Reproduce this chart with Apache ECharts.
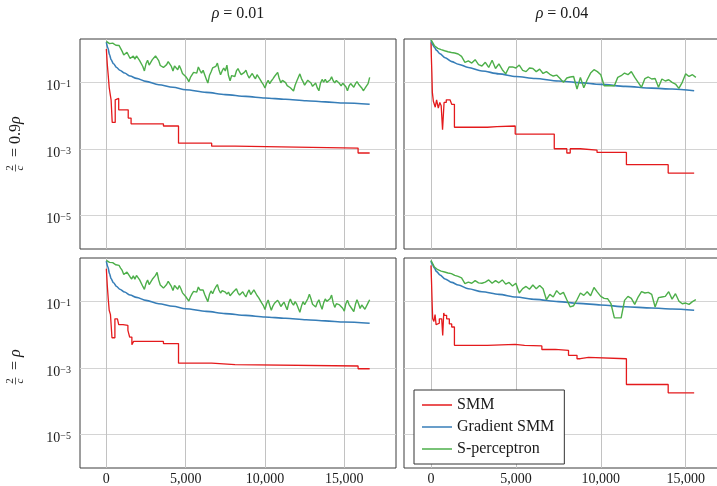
<!DOCTYPE html>
<html>
<head>
<meta charset="utf-8">
<script src="https://cdn.jsdelivr.net/npm/echarts@6/dist/echarts.min.js"></script>
<style>
  html, body { margin: 0; padding: 0; background: #fff; }
  #chart { width: 717px; height: 486px; }
</style>
</head>
<body>
<div id="chart"></div>
<script>
// Convergence of three training methods, log-scaled error against iteration.
// Columns: rho = 0.01 / 0.04; rows: 2/c = 0.9 rho / 2/c = rho.

const columnTitles = ['0.01', '0.04'];
const rowLabels = ['0.9', ''];
const seriesNames = ['SMM', 'Gradient SMM', 'S-perceptron'];

// S-perceptron values are recorded every 100 iterations (rho = 0.01)
// and every 200 iterations (rho = 0.04).
const SAMPLE_STEP_LEFT = 100;
const SAMPLE_STEP_RIGHT = 200;

// ---- SMM (piecewise constant): [iteration, value] at each change ----
const smmTL = [[0, 1.0], [60, 0.35], [120, 0.16], [180, 0.07], [240, 0.045], [300, 0.03], [370, 0.0063],
  [560, 0.03], [680, 0.033], [780, 0.015], [1380, 0.0085], [1560, 0.0057], [3600, 0.0049],
  [4550, 0.0015], [6640, 0.00122], [8110, 0.00107], [15870, 0.00076], [16600, 0.00076]];
const smmTR = [[0, 1.6], [20, 0.6], [50, 0.2], [80, 0.05], [140, 0.027], [250, 0.018], [330, 0.03],
  [430, 0.017], [520, 0.025], [600, 0.02], [680, 0.0038], [770, 0.025], [900, 0.03], [1120, 0.027],
  [1220, 0.022], [1380, 0.0045], [3320, 0.0047], [3880, 0.0049], [4960, 0.0028], [7260, 0.00102],
  [8000, 0.00076], [8200, 0.00102], [8790, 0.00092], [9780, 0.00079], [11510, 0.00034],
  [13970, 0.00019], [15500, 0.00019]];
const smmBL = [[0, 0.95], [60, 0.3], [120, 0.12], [180, 0.054], [260, 0.04], [356, 0.0081], [540, 0.03],
  [700, 0.033], [780, 0.02], [1050, 0.019], [1360, 0.0135], [1470, 0.0085], [1610, 0.005],
  [1720, 0.0063], [3600, 0.0054], [4550, 0.0014], [6640, 0.00126], [8110, 0.00115],
  [15870, 0.00095], [16600, 0.00095]];
const smmBR = [[0, 1.2], [30, 0.4], [70, 0.08], [100, 0.03], [170, 0.025], [240, 0.04], [300, 0.02],
  [370, 0.022], [490, 0.03], [630, 0.027], [690, 0.0095], [750, 0.045], [790, 0.038], [920, 0.03],
  [1080, 0.021], [1220, 0.017], [1380, 0.0048], [3320, 0.0051], [4960, 0.0048], [5510, 0.0046],
  [6530, 0.0036], [7320, 0.0034], [8100, 0.0024], [8600, 0.0019], [8790, 0.0021], [9280, 0.0019],
  [11510, 0.00032], [13970, 0.00018], [15500, 0.00018]];

// ---- Gradient SMM: [iteration, value] ----
const gradTL = [[0, 1.62], [100, 1.07], [200, 0.68], [300, 0.48], [450, 0.36], [650, 0.28], [850, 0.23],
  [1150, 0.19], [1500, 0.155], [1900, 0.132], [2500, 0.107], [3300, 0.085], [4200, 0.071],
  [5000, 0.060], [6300, 0.050], [7500, 0.043], [8800, 0.038], [10000, 0.034], [11300, 0.031],
  [12600, 0.028], [13800, 0.026], [15000, 0.024], [16600, 0.022]];
const gradBL = [[0, 1.62], [100, 1.07], [200, 0.68], [300, 0.48], [450, 0.36], [650, 0.28], [850, 0.23],
  [1150, 0.19], [1500, 0.155], [1900, 0.132], [2500, 0.107], [3300, 0.085], [4200, 0.071],
  [5000, 0.060], [6300, 0.050], [7500, 0.043], [8800, 0.038], [10000, 0.034], [11300, 0.031],
  [12600, 0.028], [13800, 0.026], [15000, 0.024], [16600, 0.022]];
const gradTR = [[0, 1.82], [80, 1.41], [200, 1.12], [330, 0.91], [530, 0.72], [830, 0.55], [1220, 0.42],
  [1610, 0.35], [2200, 0.28], [3000, 0.22], [4000, 0.18], [5000, 0.15], [6150, 0.13], [7500, 0.11],
  [8700, 0.098], [10000, 0.087], [11450, 0.076], [13000, 0.067], [14200, 0.063], [15500, 0.056]];
const gradBR = [[0, 1.62], [80, 1.29], [200, 1.0], [330, 0.78], [530, 0.62], [830, 0.47], [1220, 0.37],
  [1610, 0.31], [2200, 0.24], [3000, 0.195], [4000, 0.162], [5000, 0.135], [6150, 0.115],
  [7500, 0.098], [8700, 0.087], [10000, 0.078], [11450, 0.069], [13000, 0.063], [14200, 0.059],
  [15500, 0.054]];

// ---- S-perceptron: one value per sample step ----
const percTL = [
  1.70, 1.62, 1.45, 1.60, 1.50, 1.38, 1.30, 1.36, 1.28, 1.05, 0.85, 0.66, 0.60, 0.80, 0.74, 0.52, 0.48, 0.62, 0.50, 0.62,
  0.60, 0.45, 0.40, 0.30, 0.22, 0.36, 0.46, 0.33, 0.34, 0.48, 0.54, 0.62, 0.71, 0.45, 0.32, 0.36, 0.28, 0.25, 0.34, 0.42,
  0.38, 0.30, 0.22, 0.31, 0.30, 0.24, 0.32, 0.25, 0.185, 0.21, 0.150, 0.13, 0.105, 0.14, 0.155, 0.20, 0.22, 0.19, 0.29, 0.23,
  0.19, 0.23, 0.170, 0.125, 0.095, 0.16, 0.205, 0.27, 0.25, 0.30, 0.38, 0.24, 0.170, 0.22, 0.27, 0.22, 0.33, 0.16, 0.112, 0.16,
  0.18, 0.15, 0.22, 0.26, 0.205, 0.17, 0.150, 0.20, 0.23, 0.17, 0.135, 0.16, 0.185, 0.15, 0.128, 0.17, 0.155, 0.12, 0.100, 0.085,
  0.068, 0.094, 0.115, 0.092, 0.110, 0.128, 0.150, 0.165, 0.20, 0.13, 0.097, 0.115, 0.130, 0.098, 0.080, 0.090, 0.069, 0.062, 0.055, 0.082,
  0.108, 0.14, 0.180, 0.13, 0.105, 0.082, 0.094, 0.116, 0.128, 0.096, 0.076, 0.085, 0.095, 0.068, 0.056, 0.095, 0.122, 0.102, 0.124, 0.10,
  0.088, 0.118, 0.146, 0.112, 0.097, 0.114, 0.122, 0.092, 0.078, 0.094, 0.104, 0.074, 0.056, 0.078, 0.092, 0.084, 0.071, 0.090, 0.106, 0.088,
  0.078, 0.068, 0.056, 0.066, 0.068, 0.092, 0.141];
const percBL = [
  1.70, 1.58, 1.48, 1.62, 1.45, 1.32, 1.25, 1.34, 1.20, 1.00, 0.85, 0.64, 0.56, 0.76, 0.70, 0.54, 0.47, 0.58, 0.46, 0.60,
  0.57, 0.44, 0.39, 0.28, 0.23, 0.34, 0.44, 0.32, 0.35, 0.46, 0.52, 0.60, 0.74, 0.44, 0.31, 0.34, 0.25, 0.24, 0.32, 0.40,
  0.35, 0.28, 0.21, 0.30, 0.29, 0.23, 0.30, 0.24, 0.180, 0.20, 0.140, 0.125, 0.102, 0.135, 0.168, 0.20, 0.22, 0.19, 0.27, 0.22,
  0.20, 0.22, 0.160, 0.125, 0.098, 0.16, 0.205, 0.17, 0.22, 0.27, 0.32, 0.22, 0.178, 0.21, 0.23, 0.19, 0.165, 0.19, 0.147, 0.16,
  0.190, 0.20, 0.24, 0.18, 0.155, 0.17, 0.194, 0.16, 0.136, 0.18, 0.22, 0.16, 0.170, 0.22, 0.200, 0.15, 0.130, 0.12, 0.088, 0.075,
  0.057, 0.085, 0.110, 0.075, 0.054, 0.072, 0.088, 0.082, 0.108, 0.09, 0.070, 0.082, 0.095, 0.072, 0.056, 0.09, 0.118, 0.09, 0.077, 0.098,
  0.082, 0.062, 0.047, 0.072, 0.098, 0.08, 0.074, 0.12, 0.165, 0.12, 0.082, 0.09, 0.068, 0.092, 0.112, 0.078, 0.058, 0.09, 0.118, 0.10,
  0.088, 0.12, 0.155, 0.09, 0.066, 0.085, 0.097, 0.078, 0.071, 0.062, 0.051, 0.085, 0.108, 0.08, 0.071, 0.058, 0.049, 0.08, 0.112, 0.085,
  0.061, 0.078, 0.071, 0.058, 0.064, 0.09, 0.112];
const percTR = [1.91, 1.26, 1.05, 0.96, 0.89, 0.83, 0.79, 0.76, 0.71, 0.60,
  0.40, 0.44, 0.38, 0.48, 0.34, 0.31, 0.40, 0.28, 0.46, 0.26,
  0.36, 0.24, 0.18, 0.29, 0.29, 0.27, 0.33, 0.23, 0.21, 0.27,
  0.26, 0.21, 0.25, 0.185, 0.21, 0.175, 0.155, 0.165, 0.130, 0.10,
  0.135, 0.145, 0.150, 0.063, 0.141, 0.069, 0.120, 0.19, 0.24, 0.21,
  0.17, 0.079, 0.079, 0.079, 0.079, 0.141, 0.158, 0.19, 0.17, 0.21,
  0.141, 0.10, 0.071, 0.13, 0.145, 0.126, 0.13, 0.071, 0.126, 0.110,
  0.120, 0.10, 0.089, 0.066, 0.10, 0.18, 0.15, 0.17, 0.141];
const percBR = [1.70, 1.07, 0.89, 0.81, 0.76, 0.71, 0.68, 0.60, 0.56, 0.51,
  0.34, 0.38, 0.35, 0.42, 0.36, 0.35, 0.38, 0.44, 0.35, 0.42,
  0.36, 0.44, 0.33, 0.37, 0.29, 0.35, 0.178, 0.24, 0.28, 0.23,
  0.31, 0.24, 0.30, 0.24, 0.112, 0.162, 0.135, 0.21, 0.162, 0.186,
  0.112, 0.068, 0.074, 0.112, 0.178, 0.151, 0.195, 0.148, 0.26, 0.19,
  0.141, 0.123, 0.12, 0.085, 0.032, 0.032, 0.032, 0.107, 0.141, 0.123,
  0.081, 0.135, 0.195, 0.178, 0.186, 0.162, 0.068, 0.129, 0.135, 0.141,
  0.195, 0.117, 0.17, 0.102, 0.085, 0.089, 0.081, 0.098, 0.112];

// ---------------------------------------------------------------------
const FONT = '"Liberation Serif", "DejaVu Serif", serif';
const INK = '#1a1a1a';
const COLORS = { SMM: '#e41a1c', 'Gradient SMM': '#377eb8', 'S-perceptron': '#4daf4a' };

// panel order: top-left, top-right, bottom-left, bottom-right
const panels = [
  { smm: smmTL, grad: gradTL, perc: percTL, step: SAMPLE_STEP_LEFT },
  { smm: smmTR, grad: gradTR, perc: percTR, step: SAMPLE_STEP_RIGHT },
  { smm: smmBL, grad: gradBL, perc: percBL, step: SAMPLE_STEP_LEFT },
  { smm: smmBR, grad: gradBR, perc: percBR, step: SAMPLE_STEP_RIGHT }
];
const gridBoxes = [
  { left: 80, top: 39, width: 316, height: 210 },
  { left: 404, top: 39, width: 316, height: 210 },
  { left: 80, top: 258, width: 316, height: 210 },
  { left: 404, top: 258, width: 316, height: 210 }
];
const xExtents = [[-1660, 18260], [-1590, 17022], [-1660, 18260], [-1590, 17022]];

const yLabelFormatter = function (v) {
  const lg = Math.log10(v);
  const e = Math.round(lg);
  if (Math.abs(lg - e) > 1e-6 || e % 2 === 0) return '';
  return '{b|10}{s|' + (e < 0 ? '\u2212' : '') + Math.abs(e) + '}';
};

const grid = [], xAxis = [], yAxis = [], series = [];
panels.forEach(function (p, i) {
  const isBottom = i >= 2;
  const isLeft = i % 2 === 0;
  grid.push(Object.assign({
    show: true, borderColor: '#3c3c3c', borderWidth: 1, backgroundColor: '#fff',
    containLabel: false, outerBoundsMode: 'none'
  }, gridBoxes[i]));
  xAxis.push({
    type: 'value', gridIndex: i, min: xExtents[i][0], max: xExtents[i][1], splitNumber: 4,
    axisLine: { show: false }, axisTick: { show: false },
    axisLabel: {
      show: isBottom, margin: 4, color: INK, fontFamily: FONT, fontSize: 14,
      formatter: function (v) { return v % 5000 === 0 ? v.toLocaleString('en-US') : ''; }
    },
    splitLine: { show: true, showMinLine: false, showMaxLine: false, lineStyle: { color: '#c2c2c2', width: 1 } }
  });
  yAxis.push({
    type: 'log', gridIndex: i, min: 1e-6, max: 2, logBase: 10,
    axisLine: { show: false }, axisTick: { show: false },
    axisLabel: {
      show: isLeft, margin: 9, color: INK, formatter: yLabelFormatter, padding: [8, 0, 0, 0],
      rich: {
        b: { fontFamily: FONT, fontSize: 14, color: INK },
        s: { fontFamily: FONT, fontSize: 10, color: INK, verticalAlign: 'top' }
      }
    },
    splitLine: { show: true, showMinLine: false, showMaxLine: false,
      lineStyle: { color: ['#d4d4d4', 'rgba(0,0,0,0)'], width: 1 } }
  });
  const base = { type: 'line', xAxisIndex: i, yAxisIndex: i, symbol: 'none', showSymbol: false, animation: false };
  series.push(Object.assign({}, base, {
    name: 'SMM', step: 'end', data: p.smm,
    lineStyle: { color: COLORS.SMM, width: 1.3 }, itemStyle: { color: COLORS.SMM }
  }));
  series.push(Object.assign({}, base, {
    name: 'Gradient SMM', smooth: 0.3, smoothMonotone: 'x', data: p.grad,
    lineStyle: { color: COLORS['Gradient SMM'], width: 1.6 }, itemStyle: { color: COLORS['Gradient SMM'] }
  }));
  series.push(Object.assign({}, base, {
    name: 'S-perceptron', data: p.perc.map(function (v, k) { return [k * p.step, v]; }),
    lineStyle: { color: COLORS['S-perceptron'], width: 1.4 }, itemStyle: { color: COLORS['S-perceptron'] }
  }));
});

// column titles and row labels
const graphic = [];
columnTitles.forEach(function (t, c) {
  const g = gridBoxes[c];
  graphic.push({
    type: 'text', x: g.left + 158, y: 14,
    style: {
      text: '{i|\u03c1} = ' + t, align: 'center', verticalAlign: 'middle',
      fontFamily: FONT, fontSize: 16, fill: INK,
      rich: { i: { fontFamily: FONT, fontSize: 16, fontStyle: 'italic', fill: INK } }
    }
  });
});
const rowCenters = [168, 381];
rowLabels.forEach(function (coef, r) {
  graphic.push({
    type: 'group', x: 16, y: rowCenters[r], rotation: Math.PI / 2,
    children: [
      { type: 'text', x: 0, y: -5.5, style: { text: '2', align: 'center', verticalAlign: 'middle', fontFamily: FONT, fontSize: 11, fill: INK } },
      { type: 'line', shape: { x1: -3.5, y1: -0.5, x2: 3.5, y2: -0.5 }, style: { stroke: INK, lineWidth: 0.7 } },
      { type: 'text', x: 0, y: 4, style: { text: 'c', align: 'center', verticalAlign: 'middle', fontFamily: FONT, fontSize: 11, fontStyle: 'italic', fill: INK } },
      { type: 'text', x: 11, y: 0, style: {
        text: '= ' + (coef ? coef : '') + '{i|\u03c1}', align: 'left', verticalAlign: 'middle',
        fontFamily: FONT, fontSize: 16, fill: INK,
        rich: { i: { fontFamily: FONT, fontSize: 16, fontStyle: 'italic', fill: INK } }
      } }
    ]
  });
});

const chart = echarts.init(document.getElementById('chart'), null, { renderer: 'canvas' });
chart.setOption({
  animation: false,
  backgroundColor: '#fff',
  grid: grid,
  xAxis: xAxis,
  yAxis: yAxis,
  series: series,
  graphic: graphic,
  legend: {
    data: seriesNames.map(function (n) { return { name: n, icon: 'rect' }; }),
    orient: 'vertical', left: 414, top: 390,
    padding: [7, 10, 7, 8], itemGap: 6, itemWidth: 30, itemHeight: 1.5,
    backgroundColor: '#fff', borderColor: '#333', borderWidth: 1, borderRadius: 0,
    selectedMode: false,
    textStyle: { fontFamily: FONT, fontSize: 16, color: INK }
  }
});
</script>
</body>
</html>
